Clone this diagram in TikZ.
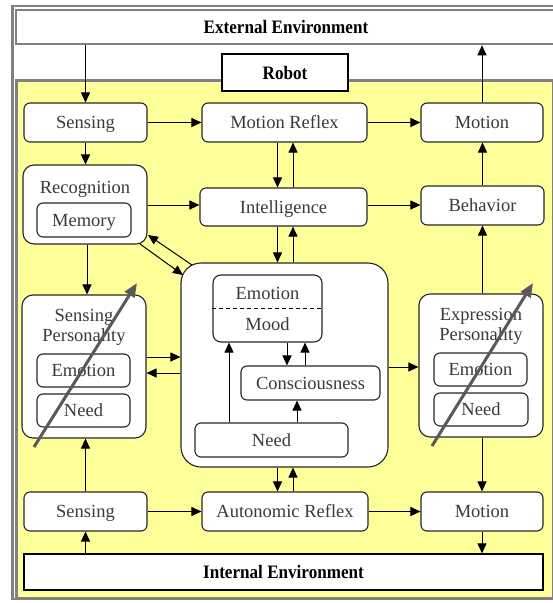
\documentclass[tikz,border=0pt]{standalone}
\usepackage{fontspec}
\setmainfont{Liberation Serif}
\newfontfamily\envfont[FakeStretch=0.9]{Liberation Serif}
\usetikzlibrary{arrows.meta}
\definecolor{paleyellow}{RGB}{255,255,153}
\definecolor{framegray}{RGB}{128,128,128}
\definecolor{boxtext}{RGB}{58,58,58}

\tikzset{
  box/.style={draw=black!85, line width=1.1pt, rounded corners=6pt, fill=white,
    text=boxtext, font=\fontsize{18.5}{20}\selectfont, inner sep=0pt,
    text height=12pt, text depth=0pt},
  panel/.style={draw=black!85, line width=1.1pt, rounded corners=11pt, fill=white, inner sep=0pt},
  lbl/.style={text=boxtext, font=\fontsize{18.5}{20}\selectfont, inner sep=0pt, align=center},
  envbox/.style={draw=black, line width=1.2pt, fill=white, inner sep=0pt,
    font=\envfont\bfseries\fontsize{19}{21}\selectfont, text height=13pt, text depth=0pt},
  arr/.style={-{Triangle[length=10pt,width=9pt]}, line width=1pt},
  slash/.style={-{Triangle[length=14pt,width=11pt]}, line width=3pt, draw=black!65},
}

\begin{document}
\begin{tikzpicture}[x=1pt,y=-1pt]
\useasboundingbox (0,0) rectangle (553,603);

% outer frame and environment bands
\draw[framegray, line width=2.2pt, fill=white] (12.5,6) rectangle (560,599);
\node[envbox, draw=framegray, line width=2.6pt, minimum width=540pt, minimum height=34pt]
  (ext) at (286,27) {External Environment};
\draw[framegray, line width=3pt, fill=paleyellow] (16,80) rectangle (553.5,598);
\node[envbox, minimum width=126pt, minimum height=37pt] (robot) at (285,72.5) {Robot};

% top row
\node[box, minimum width=123pt, minimum height=39pt] (sens1) at (85.5,122.5) {Sensing};
\node[box, minimum width=165pt, minimum height=39pt] (mref) at (284.5,122.5) {Motion Reflex};
\node[box, minimum width=122pt, minimum height=39pt] (mot1) at (482,122.5) {Motion};

% second row
\node[panel, minimum width=124pt, minimum height=79pt] (recog) at (85,204.5) {};
\node[lbl, text height=12pt, text depth=0pt] at (85,187) {Recognition};
\node[box, minimum width=94pt, minimum height=34pt] (mem) at (84,220) {Memory};
\node[box, minimum width=167pt, minimum height=38pt] (intel) at (283.5,207) {Intelligence};
\node[box, minimum width=123pt, minimum height=39pt] (behav) at (482.5,205.5) {Behavior};

% personality panels
\node[panel, minimum width=124pt, minimum height=143pt] (spers) at (84,366.5) {};
\node[lbl] at (84,327.5) {Sensing\\Personality};
\node[box, minimum width=93pt, minimum height=33pt] (semo) at (83.5,370.5) {Emotion};
\node[box, minimum width=93pt, minimum height=33pt] (sneed) at (83.5,410.5) {Need};

\node[panel, minimum width=124pt, minimum height=143pt] (epers) at (481,365.5) {};
\node[lbl] at (481,326) {Expression\\Personality};
\node[box, minimum width=93pt, minimum height=33pt] (eemo) at (480.5,369.5) {Emotion};
\node[box, minimum width=94pt, minimum height=33pt] (eneed) at (481,409.5) {Need};

% central block
\node[panel, rounded corners=20pt, minimum width=207pt, minimum height=204pt] (big) at (284.5,365) {};
\node[box, rounded corners=8pt, minimum width=109pt, minimum height=67pt] (emood) at (267.5,308.5) {};
\draw[line width=1pt, dash pattern=on 4pt off 3pt] (emood.west) -- (emood.east);
\node[lbl, text height=12pt, text depth=0pt] at (267.5,293) {Emotion};
\node[lbl, text height=12pt, text depth=0pt] at (267.5,324.5) {Mood};
\node[box, minimum width=139pt, minimum height=34pt] (consc) at (310.5,383) {Consciousness};
\node[box, minimum width=153pt, minimum height=34pt] (need) at (271.5,440) {Need};

% bottom row
\node[box, minimum width=123pt, minimum height=39pt] (sens2) at (85.5,511.5) {Sensing};
\node[box, minimum width=166pt, minimum height=39pt] (aref) at (285,511.5) {Autonomic Reflex};
\node[box, minimum width=122pt, minimum height=39pt] (mot2) at (482,511.5) {Motion};
\node[envbox, minimum width=519pt, minimum height=36pt] (intenv) at (283.5,572) {Internal Environment};

% guide coordinates for parallel connectors
\coordinate (cL) at (277.5,0);
\coordinate (cR) at (293,0);
\coordinate (r1) at (0,357);
\coordinate (r2) at (0,373);
\coordinate (r3) at (0,367);
\coordinate (rw) at (0,205);
\coordinate (c0) at (87,0);
\coordinate (c1) at (229,0);
\coordinate (c2) at (287,0);
\coordinate (c3) at (305,0);
\coordinate (c4) at (297,0);
\coordinate (d1a) at (192,265);
\coordinate (d1b) at (148,235);
\coordinate (d2a) at (140,244);
\coordinate (d2b) at (183,275);

% environment links
\draw[arr] (ext.south -| sens1.north) -- (sens1.north);
\draw[arr] (mot1.north) -- (mot1.north |- ext.south);
\draw[arr] (mot2.south) -- (mot2.south |- intenv.north);
\draw[arr] (intenv.north -| sens2.south) -- (sens2.south);

% horizontal flow
\draw[arr] (sens1.east) -- (mref.west);
\draw[arr] (mref.east) -- (mot1.west);
\draw[arr] (recog.east |- rw) -- (intel.west |- rw);
\draw[arr] (intel.east |- rw) -- (behav.west |- rw);
\draw[arr] (sens2.east) -- (aref.west);
\draw[arr] (aref.east) -- (mot2.west);

% vertical flow, left column
\draw[arr] (sens1.south) -- (sens1.south |- recog.north);
\draw[arr] (recog.south -| c0) -- (spers.north -| c0);
\draw[arr] (sens2.north) -- (sens2.north |- spers.south);

% vertical flow, right column
\draw[arr] (behav.north) -- (behav.north |- mot1.south);
\draw[arr] (epers.north -| behav.south) -- (behav.south);
\draw[arr] (epers.south -| mot2.north) -- (mot2.north);

% central column
\draw[arr] (mref.south -| cL) -- (intel.north -| cL);
\draw[arr] (intel.north -| cR) -- (mref.south -| cR);
\draw[arr] (intel.south -| cL) -- (big.north -| cL);
\draw[arr] (big.north -| cR) -- (intel.south -| cR);
\draw[arr] (big.south -| cL) -- (aref.north -| cL);
\draw[arr] (aref.north -| cR) -- (big.south -| cR);

% links around the central block
\draw[arr] (spers.east |- r1) -- (big.west |- r1);
\draw[arr] (big.west |- r2) -- (spers.east |- r2);
\draw[arr] (big.east |- r3) -- (epers.west |- r3);
\draw[arr] (d1a) -- (d1b);
\draw[arr] (d2a) -- (d2b);

% inside the central block
\draw[arr] (need.north -| c1) -- (emood.south -| c1);
\draw[arr] (emood.south -| c2) -- (consc.north -| c2);
\draw[arr] (consc.north -| c3) -- (emood.south -| c3);
\draw[arr] (need.north -| c4) -- (consc.south -| c4);

% slashes across the personality panels
\draw[slash] (34,447) -- (137,283);
\draw[slash] (432,446) -- (533,283);
\end{tikzpicture}
\end{document}
